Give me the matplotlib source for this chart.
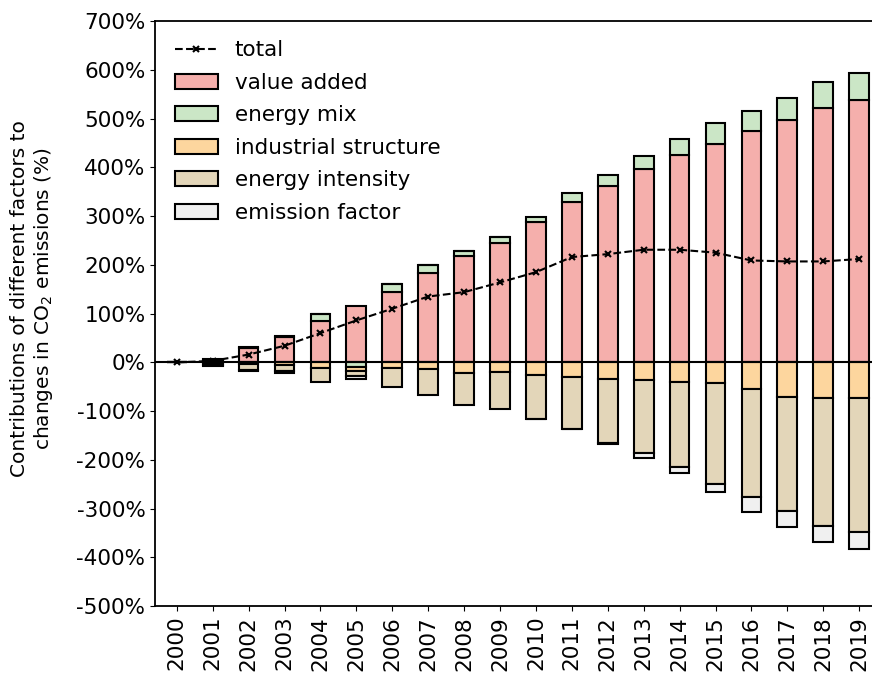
import numpy as np
import matplotlib
matplotlib.use('Agg')
from matplotlib import pyplot as plt

years = [str(y) for y in range(2000, 2020)]

# decomposition of CO2 emission changes relative to 2000 (%)
value_added = [0, 5, 29, 53, 85, 115, 144, 184, 218, 244, 287, 328, 362, 396, 425, 448, 474, 498, 521, 539]
energy_mix = [0, 1, 2, 2, 14, -9, 16, 16, 11, 13, 11, 20, 23, 28, 34, 42, 41, 45, 55, 55]
industrial_structure = [0, -2, -4, -5, -11, -8, -11, -13, -21, -19, -25, -30, -34, -36, -40, -43, -54, -71, -73, -73]
energy_intensity = [0, -4, -11, -12, -29, -12, -40, -53, -67, -77, -91, -106, -132, -150, -175, -206, -223, -234, -262, -275]
emission_factor = [0, -1, -3, -5, 0, -5, 0, 0, 0, 0, -1, -1, -2, -10, -12, -17, -30, -33, -34, -35]
total = [0, 3, 16, 34, 60, 86, 110, 135, 144, 164, 185, 216, 222, 231, 231, 225, 209, 207, 207, 212]

labels = ['value added', 'energy mix', 'industrial structure', 'energy intensity', 'emission factor']
colors = ['#f5afac', '#cbe6c6', '#fdd69e', '#e3d6b9', '#f0f0f0']
series = [value_added, energy_mix, industrial_structure, energy_intensity, emission_factor]

plt.rcParams['font.size'] = 15.5

fig = plt.figure(figsize=(8.72, 6.81), dpi=100)
ax = fig.add_axes([0.178, 0.110, 0.832, 0.859])

x = np.arange(len(years))
pos_bottom = np.zeros(len(years))
neg_bottom = np.zeros(len(years))

ax.plot(x, total, 'k--', marker='x', markersize=4, markeredgewidth=1.5, linewidth=1.5, label='total', zorder=5)

#stack positive parts upward and negative parts downward
for vals, lab, col in zip(series, labels, colors):
    v = np.array(vals, dtype=float)
    bottom = np.where(v >= 0, pos_bottom, neg_bottom)
    ax.bar(x, v, 0.55, bottom=bottom, color=col, edgecolor='black', linewidth=1.5, label=lab, zorder=3)
    pos_bottom = pos_bottom + np.where(v > 0, v, 0)
    neg_bottom = neg_bottom + np.where(v < 0, v, 0)

ax.axhline(0, color='black', linewidth=1.5, zorder=4)

ax.set_xlim(-0.6, 19.6)
ax.set_ylim(-500, 700)
ax.set_xticks(x)
ax.set_xticklabels(years, rotation=90)
yt = np.arange(-500, 701, 100)
ax.set_yticks(yt)
ax.set_yticklabels([f'{v}%' for v in yt])
ax.set_ylabel('Contributions of different factors to\nchanges in CO$_2$ emissions (%)', fontsize=14.5)
ax.yaxis.set_label_coords(-0.138, 0.525)

for s in ax.spines.values():
    s.set_linewidth(1.3)

ax.legend(loc='upper left', frameon=False, borderaxespad=0.5, labelspacing=0.58)

plt.savefig('out.png', dpi=100)
